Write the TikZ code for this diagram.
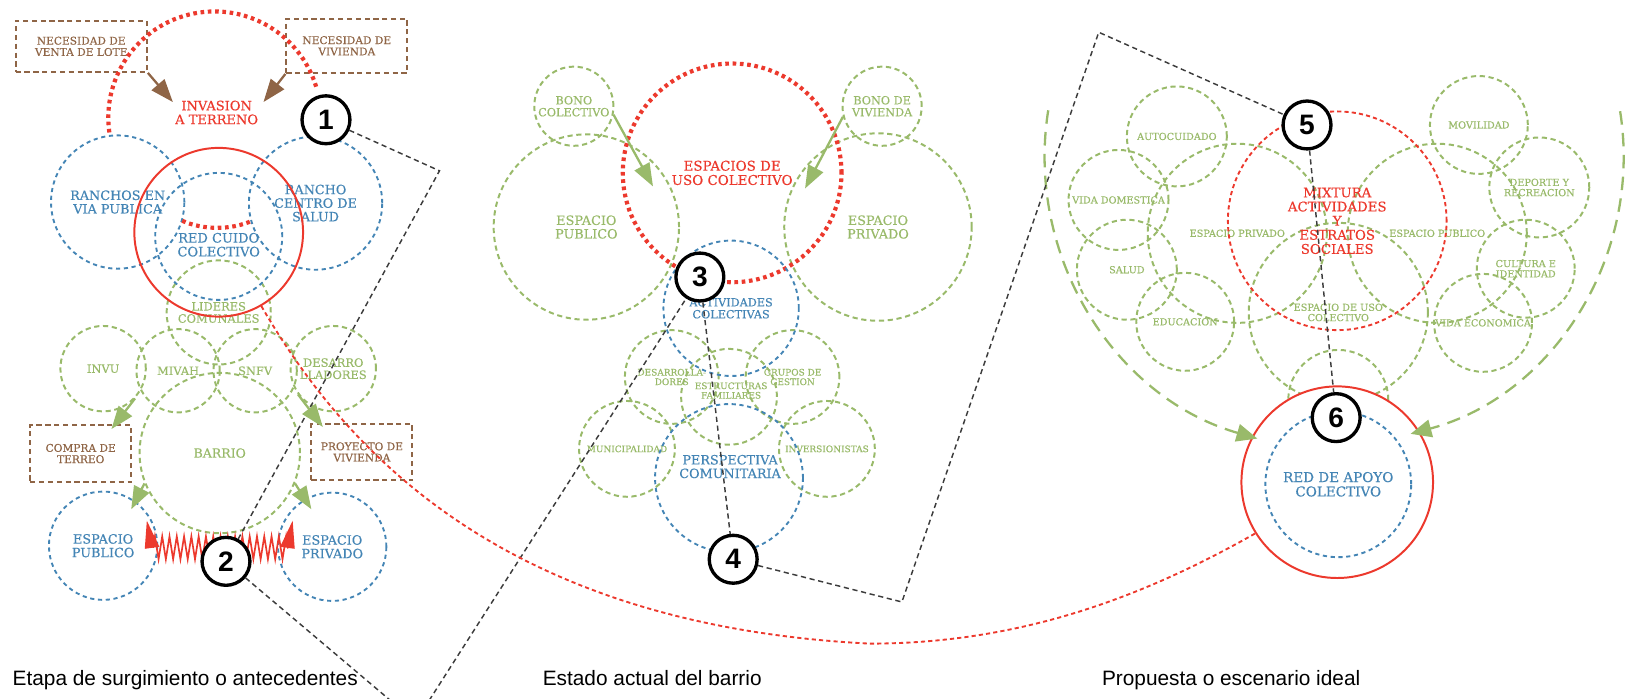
\documentclass[tikz,border=0pt]{standalone}
\usepackage{fontspec}
\setmainfont{DejaVu Serif}[FakeBold=0.35]
\newfontfamily\capfont{Liberation Sans}
\usetikzlibrary{arrows.meta,decorations.pathmorphing}

\definecolor{bluec}{RGB}{68,133,181}
\definecolor{greenc}{RGB}{153,186,106}
\definecolor{redc}{RGB}{236,57,45}
\definecolor{brownc}{RGB}{143,101,70}
\definecolor{grayc}{RGB}{60,60,60}

\newcommand\fsz[1]{\fontsize{#1}{#1}\selectfont\baselineskip=1.06\baselineskip}

\tikzset{
  gcirc/.style={circle, draw=greenc, line width=1.9pt, dash pattern=on 5pt off 3.5pt, inner sep=0pt, text=greenc, align=center},
  bcirc/.style={circle, draw=bluec, line width=1.8pt, dash pattern=on 4pt off 3.5pt, inner sep=0pt, text=bluec, align=center},
  rsolid/.style={circle, draw=redc, line width=1.9pt, inner sep=0pt},
  rdots/.style={draw=redc, line width=4pt, dash pattern=on 3.5pt off 3.5pt},
  rdash/.style={draw=redc, line width=1.8pt, dash pattern=on 4pt off 3pt},
  bbox/.style={draw=brownc, line width=2pt, dash pattern=on 5pt off 3.5pt, text=brownc, align=center, inner sep=0pt, font=\fsz{10.2}},
  trail/.style={draw=grayc, line width=1.4pt, dash pattern=on 5pt off 3.5pt},
  garrow/.style={draw=greenc, line width=2.2pt, -{Triangle[length=22pt,width=16pt]}},
  barrow/.style={draw=brownc, line width=2.2pt, -{Triangle[length=22pt,width=16pt]}},
  gldash/.style={draw=greenc, line width=2.2pt, dash pattern=on 13pt off 8pt, -{Triangle[length=20pt,width=17pt]}},
  zig/.style={draw=redc, line width=1.6pt, decorate, decoration={zigzag, segment length=7pt, amplitude=11pt}},
  num/.style={circle, draw=black, line width=3.2pt, fill=white, minimum size=46pt, inner sep=0pt, font=\capfont\bfseries\fsz{27}},
  txt/.style={align=center, inner sep=0pt},
  caption/.style={anchor=base west, inner sep=0pt, font=\capfont\fsz{20}}
}

\begin{document}
\begin{tikzpicture}[x=1pt, y=1pt]
  \useasboundingbox (0,0) rectangle (1568,-671);
  \clip (0,0) rectangle (1568,-671);

  % etapa de surgimiento
  \node[bbox, minimum width=126pt, minimum height=49pt] (nvl) at (78,-44.5) {NECESIDAD DE\\VENTA DE LOTE};
  \node[bbox, minimum width=116pt, minimum height=52pt] (nviv) at (333,-44) {NECESIDAD DE\\VIVIENDA};
  \node[bbox, minimum width=97pt, minimum height=55pt] (compra) at (77.5,-435.5) {COMPRA DE\\TERREO};
  \node[bbox, minimum width=97pt, minimum height=54pt] (proy) at (347.5,-434) {PROYECTO DE\\VIVIENDA};
  \draw[rdots] (206,-113) ++(188:102) arc[start angle=188, end angle=15, radius=102];
  \node[txt, text=redc, font=\fsz{12.5}] (invasion) at (208,-108) {INVASION\\A TERRENO};
  \foreach \n/\x/\y/\r/\t in {lideres/210/300/50/LIDERES\\COMUNALES, invu/99/354/41/INVU, mivah/171/356/40/MIVAH,
      snfv/245/356/40/SNFV, desarro/320/354/41/DESARRO\\LLADORES}
    \node[gcirc, minimum size=2*\r, font=\fsz{11}] (\n) at (\x,-\y) {\t};
  \node[gcirc, minimum size=154pt, font=\fsz{12}] (barrio) at (211,-435) {BARRIO};
  \foreach \n/\x/\y/\r/\t in {ranchos/113/194/64/RANCHOS EN\\VIA PUBLICA, rancho/303/195/64/RANCHO\\CENTRO DE\\SALUD,
      epub1/99/524/52/ESPACIO\\PUBLICO, epriv1/319/525/52/ESPACIO\\PRIVADO}
    \node[bcirc, minimum size=2*\r, font=\fsz{12.3}] (\n) at (\x,-\y) {\t};
  \node[bcirc, minimum size=122pt] (cuido) at (210,-227) {};
  \node[txt, text=bluec, font=\fsz{12.5}] (cuidot) at (210,-235) {RED CUIDO\\COLECTIVO};
  \node[rsolid, minimum size=162pt] (rc1) at (210,-223) {};
  \draw[rdots] (175,-212) .. controls (195,-221) and (222,-221) .. (242,-212);

  % estado actual
  \foreach \n/\x/\y/\r/\t in {bono1/551/102/38/BONO\\COLECTIVO, bono2/847/102/38/BONO DE\\VIVIENDA}
    \node[gcirc, minimum size=2*\r, font=\fsz{10.8}] (\n) at (\x,-\y) {\t};
  \foreach \n/\x/\y/\r/\t in {epub2/563/218/89/ESPACIO\\PUBLICO, epriv2/843/218/90/ESPACIO\\PRIVADO}
    \node[gcirc, minimum size=2*\r, font=\fsz{12.3}] (\n) at (\x,-\y) {\t};
  \foreach \n/\x/\y/\r/\t in {desarr2/645/362/45/DESARROLLA-\\DORES, grupos/761/362/45/GRUPOS DE\\GESTION,
      munic/602/431/46/MUNICIPALIDAD, invers/794/431/46/INVERSIONISTAS}
    \node[gcirc, minimum size=2*\r, font=\fsz{8.6}] (\n) at (\x,-\y) {\t};
  \node[gcirc, minimum size=92pt] (estruct) at (700,-381) {};
  \node[txt, text=greenc, font=\fsz{8.6}] (estructt) at (702,-375) {ESTRUCTURAS\\FAMILIARES};
  \node[circle, rdots, minimum size=210pt, inner sep=0pt, text=redc, align=center, font=\fsz{12.9}] (rc3) at (703,-166) {ESPACIOS DE\\USO COLECTIVO};
  \node[bcirc, minimum size=130pt, font=\fsz{10.8}] (activ) at (702,-296) {ACTIVIDADES\\COLECTIVAS};
  \node[bcirc, minimum size=142pt] (persp) at (700,-459) {};
  \node[txt, text=bluec, font=\fsz{12.3}] (perspt) at (701,-448) {PERSPECTIVA\\COMUNITARIA};

  % propuesta
  \foreach \n/\x/\y/\r/\t in {auto/1130/131/48/AUTOCUIDADO, vdom/1074/192/48/VIDA DOMESTICA, salud/1082/259/48/SALUD,
      educ/1138/309/47/EDUCACION, movil/1420/120/47/MOVILIDAD, deporte/1478/180/48/DEPORTE Y\\RECREACION,
      cultura/1465/258/47/CULTURA E\\IDENTIDAD, veco/1424/310/47/VIDA ECONOMICA,
      epriv3/1188/224/86/ESPACIO PRIVADO, epub3/1380/224/86/ESPACIO PUBLICO,
      euso/1285/300/86/ESPACIO DE USO\\COLECTIVO, vcom/1285/384/48/VIDA\\COMUNITARIA}
    \node[gcirc, minimum size=2*\r, font=\fsz{9.3}] (\n) at (\x,-\y) {\t};
  \node[circle, rdash, minimum size=210pt, inner sep=0pt, text=redc, align=center, font=\fsz{12.8}] (rc4) at (1284,-212)
    {MIXTURA\\ACTIVIDADES\\Y\\ESTRATOS\\SOCIALES};
  \node[rsolid, minimum size=184pt, fill=white] (rc2) at (1284,-463) {};
  \node[bcirc, minimum size=140pt, font=\fsz{13}] (apoyo) at (1285,-465) {RED DE APOYO\\COLECTIVO};
  \draw[gldash] (1006.5,-105.9) arc[start angle=171, end angle=254, radius=282];
  \draw[gldash] (1555.6,-106.8) arc[start angle=9, end angle=-75, radius=276];

  % zigzag between public and private space
  \coordinate (zl) at (147,-526);
  \coordinate (zr) at (277,-526);
  \draw[zig] (zl) -- (zr);
  \fill[redc] (141,-500) -- (139,-527) -- (153,-525) -- cycle;
  \fill[redc] (281,-500) -- (283,-527) -- (269,-525) -- cycle;

  % numbered steps
  \node[num] (n1) at (313,-115) {1};
  \node[num] (n2) at (217,-539) {2};
  \node[num] (n3) at (672,-266) {3};
  \node[num] (n4) at (704,-537) {4};
  \node[num] (n5) at (1255,-120) {5};
  \node[num] (n6) at (1283,-401) {6};

  \coordinate (k1) at (422,-164);
  \coordinate (kv) at (399,-693);
  \coordinate (k2) at (866,-578);
  \coordinate (k3) at (1055,-31);
  \draw[trail] (n1) -- (k1) -- (n2) -- (kv) -- (n3) -- (n4) -- (k2) -- (k3) -- (n5) -- (n6);

  \coordinate (rlow) at (835,-618);
  \draw[rdash] (rc1.-60) .. controls (330,-430) and (480,-600) .. (rlow) .. controls (990,-618) and (1110,-566) .. (rc2.212);

  % arrows
  \coordinate (tb1) at (166,-98);
  \coordinate (tb2) at (253,-98);
  \draw[barrow] (nvl.south east) -- (tb1);
  \draw[barrow] (nviv.south west) -- (tb2);
  \coordinate (ta1) at (107,-412);
  \coordinate (ta2) at (310,-410);
  \coordinate (ta3) at (126,-489);
  \coordinate (ta4) at (299,-489);
  \draw[garrow] (invu.-43) -- (ta1);
  \draw[garrow] (desarro.216) -- (ta2);
  \draw[garrow] (barrio.202) -- (ta3);
  \draw[garrow] (barrio.-22) -- (ta4);
  \coordinate (ta5) at (627,-179);
  \coordinate (ta6) at (773,-181);
  \draw[garrow] (bono1.-12) -- (ta5);
  \draw[garrow] (bono2.195) -- (ta6);

  % captions
  \node[caption] (cap1) at (12,-658) {Etapa de surgimiento o antecedentes};
  \node[caption] (cap2) at (521,-658) {Estado actual del barrio};
  \node[caption] (cap3) at (1058,-658) {Propuesta o escenario ideal};
\end{tikzpicture}
\end{document}
